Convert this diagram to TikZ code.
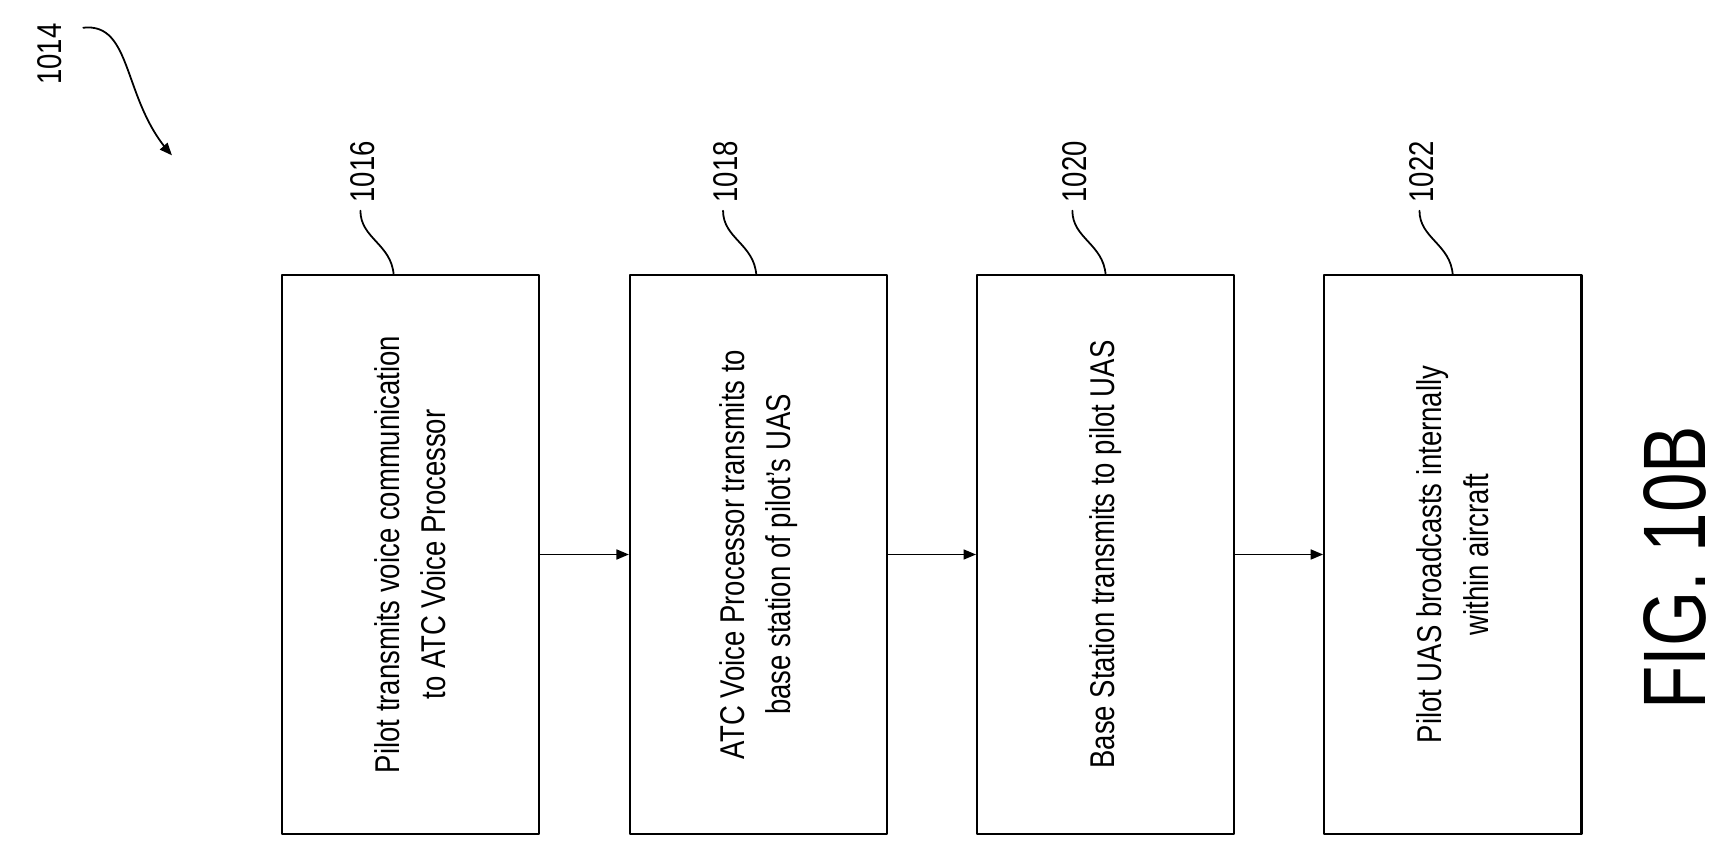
\documentclass[tikz,border=0pt]{standalone}
\usepackage{fontspec}
\setmainfont[FakeStretch=0.8]{Liberation Sans}
\usetikzlibrary{arrows}
\begin{document}
\begin{tikzpicture}[line cap=round,line join=round,>=triangle 45,x=1pt,y=-1pt]
		\tikzset{stepbox/.style={draw,line width=2pt,rotate=90,minimum width=504pt,minimum height=232pt,align=center,font=\fontsize{31}{42}\selectfont},
			refnum/.style={rotate=90,anchor=west,font=\fontsize{31}{31}\selectfont}}
		\useasboundingbox (0,0) rectangle (1560,771);
		\node[stepbox] (pilot) at (370,500) {Pilot transmits voice communication\\to ATC Voice Processor};
		\node[stepbox] (atc) at (684,500) {ATC Voice Processor transmits to\\base station of pilot's UAS};
		\node[stepbox] (base) at (997,500) {Base Station transmits to pilot UAS};
		\node[stepbox] (uas) at (1310,500) {Pilot UAS broadcasts internally\\within aircraft};
		\draw [->,line width=1.6pt] (pilot.south) -- (atc.north);
		\draw [->,line width=1.6pt] (atc.south) -- (base.north);
		\draw [->,line width=1.6pt] (base.south) -- (uas.north);
		% reference numerals
		\foreach \n/\x/\t in {pilot/355/1016,atc/682/1018,base/997/1020,uas/1310/1022}{
			\coordinate (\n-lead) at (\x-30,190);
			\draw [line width=1.6pt] (\x,248) .. controls (\x-2,220) and (\x-30,215) .. (\n-lead);
			\node[refnum] (\n-num) at (\x-28,186) {\t};
		}
		\node[refnum] (fig-num) at (45,80) {1014};
		\coordinate (fig-tip) at (155,140);
		\draw [->,line width=1.6pt] (75,25) .. controls (120,20) and (110,90) .. (fig-tip);
		\node[rotate=90,font=\fontsize{80}{80}\selectfont] (fig) at (1510,512) {FIG. 10B};
\end{tikzpicture}
\end{document}
